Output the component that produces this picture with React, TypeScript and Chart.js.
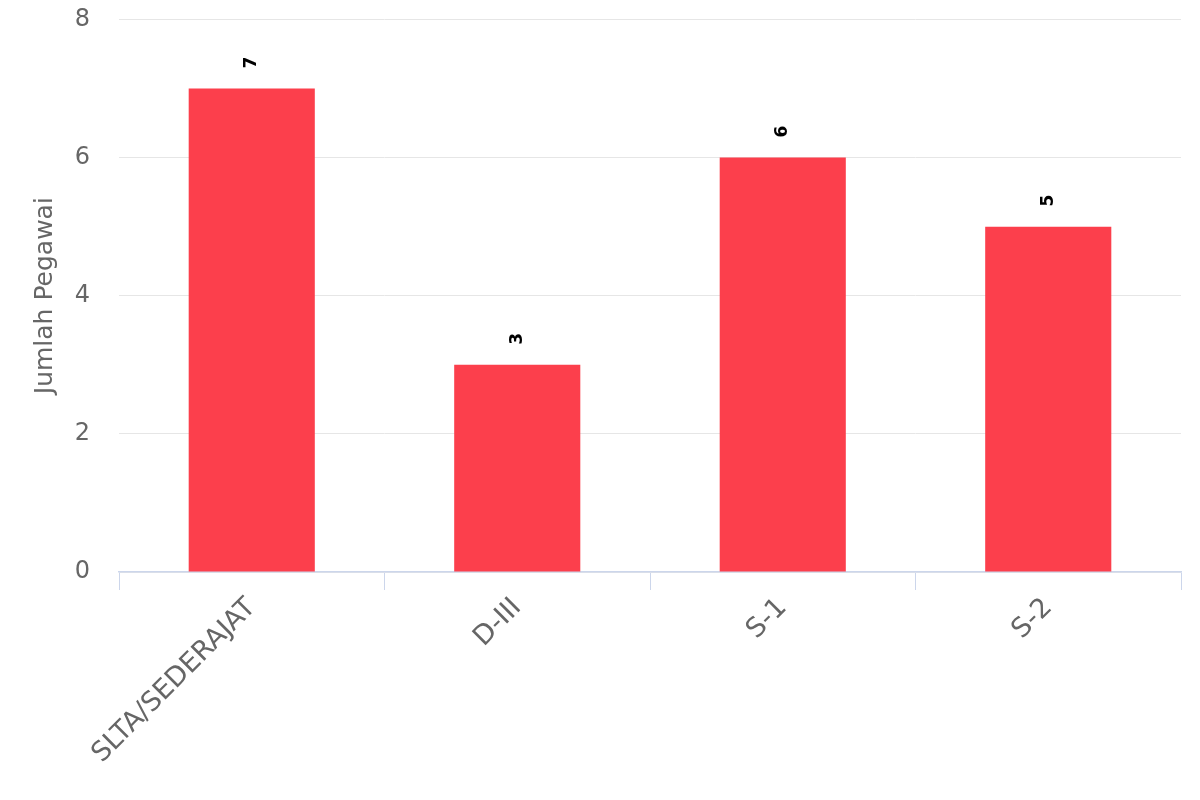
import React, { useEffect, useRef } from "react";
import { Chart, registerables } from "chart.js";

Chart.register(...registerables);

const categories = ["SLTA/SEDERAJAT", "D-III", "S-1", "S-2"];
const values = [7, 3, 6, 5];
const yTitle = "Jumlah Pegawai";

const FONT = "Verdana, 'DejaVu Sans', sans-serif";

const dataLabelPlugin = {
  id: "rotatedLabels",
  afterDatasetsDraw(chart: any) {
    const ctx = chart.ctx;
    const meta = chart.getDatasetMeta(0);
    ctx.save();
    ctx.font = `bold 17px ${FONT}`;
    ctx.fillStyle = "#000000";
    ctx.textAlign = "center";
    ctx.textBaseline = "middle";
    meta.data.forEach((bar: any, i: number) => {
      ctx.save();
      ctx.translate(bar.x, bar.y - 26);
      ctx.rotate(-Math.PI / 2);
      ctx.fillText(String(values[i]), 0, 0);
      ctx.restore();
    });
    ctx.restore();
  },
};

export default function App() {
  const ref = useRef<HTMLCanvasElement>(null);
  useEffect(() => {
    if (!ref.current) return;
    const chart = new Chart(ref.current, {
      type: "bar",
      data: {
        labels: categories,
        datasets: [
          {
            label: yTitle,
            data: values,
            backgroundColor: "#fc3f4c",
            borderWidth: 0,
            barPercentage: 0.475,
            categoryPercentage: 1,
          },
        ],
      },
      options: {
        animation: false,
        responsive: false,
        maintainAspectRatio: false,
        layout: { padding: { top: 0, right: 19, left: 0, bottom: 0 } },
        plugins: {
          legend: { display: false },
          tooltip: { enabled: false },
        },
        scales: {
          x: {
            grid: {
              display: true,
              drawOnChartArea: false,
              drawTicks: true,
              tickLength: 18,
              color: "#ccd6eb",
              lineWidth: 1,
            },
            border: { display: true, color: "#ccd6eb", width: 1.5 },
            ticks: {
              color: "#666666",
              font: { family: FONT, size: 27 },
              maxRotation: 45,
              minRotation: 45,
              padding: 2,
              autoSkip: false,
            },
            afterFit: (axis: any) => {
              axis.height = 228;
            },
          },
          y: {
            min: 0,
            max: 8,
            grid: {
              color: "#e6e6e6",
              lineWidth: 1,
              drawTicks: false,
            },
            border: { display: false },
            ticks: {
              stepSize: 2,
              color: "#666666",
              font: { family: FONT, size: 24 },
              padding: 29,
            },
            title: {
              display: true,
              text: yTitle,
              color: "#666666",
              font: { family: FONT, size: 25 },
              padding: { top: 30, bottom: 0 },
            },
            afterFit: (axis: any) => {
              axis.width = 119;
            },
          },
        },
      },
      plugins: [dataLabelPlugin],
    });
    return () => chart.destroy();
  }, []);
  return (
    <div style={{ position: "fixed", left: 0, top: 0, width: 1200, height: 800, background: "#fff", overflow: "hidden" }}>
      <canvas
        ref={ref}
        width={1200}
        height={824}
        style={{ position: "absolute", left: 0, top: -24, width: 1200, height: 824 }}
      />
    </div>
  );
}
